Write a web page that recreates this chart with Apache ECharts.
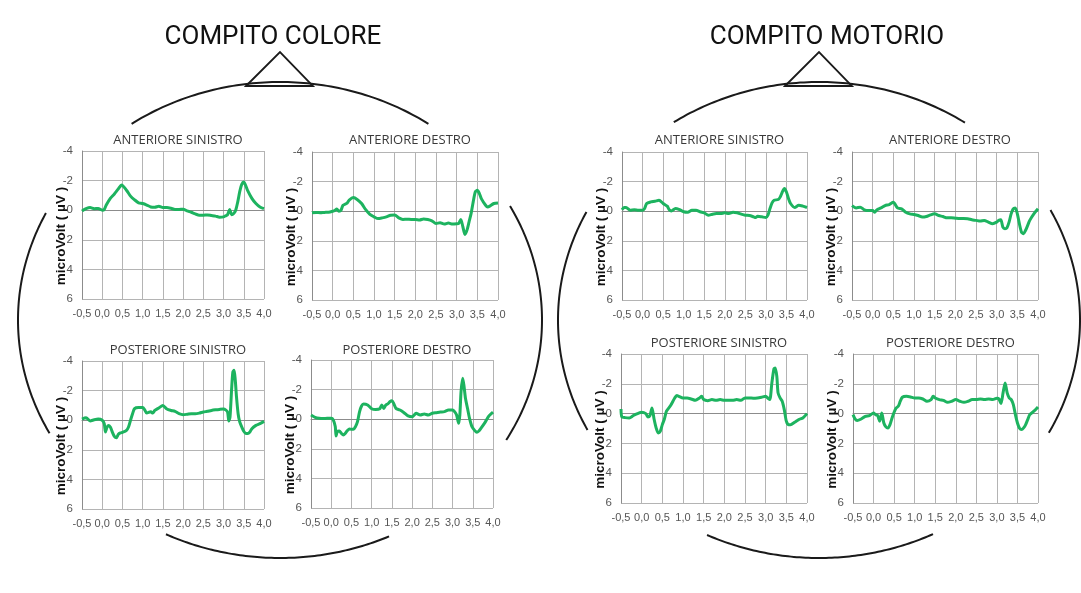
<!DOCTYPE html>
<html><head><meta charset="utf-8">
<script src="https://cdn.jsdelivr.net/npm/echarts@6/dist/echarts.min.js"></script>
<style>html,body{margin:0;padding:0;background:#fff}#c{width:1081px;height:593px}</style>
</head><body><div id="c"></div>
<script>
// ---- DATA ----
const headTitles = ['COMPITO COLORE', 'COMPITO MOTORIO'];
const panelTitles = ['ANTERIORE SINISTRO', 'ANTERIORE DESTRO', 'POSTERIORE SINISTRO', 'POSTERIORE DESTRO',
                     'ANTERIORE SINISTRO', 'ANTERIORE DESTRO', 'POSTERIORE SINISTRO', 'POSTERIORE DESTRO'];
const yAxisName = 'microVolt ( µV )';
const xMin = -0.5, xMax = 4.0, xStep = 0.5;
const yMin = -4, yMax = 6, yStep = 2;

// [time (s), microVolt]
const coloreAntSin = [[-0.5,0.05],[-0.4,-0.1],[-0.3,-0.18],[-0.2,-0.1],[-0.1,-0.12],[0.0,0.0],[0.05,-0.05],[0.1,-0.35],[0.2,-0.8],[0.3,-1.1],[0.4,-1.45],[0.48,-1.7],[0.6,-1.35],[0.7,-0.95],[0.8,-0.7],[0.9,-0.5],[1.0,-0.45],[1.1,-0.35],[1.2,-0.22],[1.3,-0.2],[1.4,-0.27],[1.5,-0.18],[1.6,-0.18],[1.7,-0.13],[1.8,-0.05],[1.9,-0.05],[2.0,-0.07],[2.1,0.05],[2.2,0.14],[2.3,0.25],[2.4,0.34],[2.5,0.34],[2.6,0.32],[2.7,0.36],[2.8,0.4],[2.9,0.47],[3.0,0.45],[3.05,0.38],[3.1,0.3],[3.15,-0.05],[3.2,0.3],[3.25,0.22],[3.3,0.0],[3.35,-0.55],[3.4,-1.25],[3.45,-1.75],[3.5,-1.9],[3.55,-1.65],[3.6,-1.3],[3.7,-0.8],[3.8,-0.45],[3.9,-0.22],[4.0,-0.1]];
const coloreAntDes = [[-0.5,0.1],[-0.4,0.08],[-0.3,0.1],[-0.2,0.08],[-0.1,0.07],[0.0,0.0],[0.05,-0.05],[0.1,-0.15],[0.15,0.0],[0.2,-0.05],[0.25,-0.4],[0.35,-0.55],[0.4,-0.75],[0.5,-0.92],[0.6,-0.78],[0.7,-0.52],[0.8,-0.1],[0.9,0.22],[1.0,0.38],[1.1,0.5],[1.2,0.45],[1.3,0.38],[1.4,0.27],[1.5,0.25],[1.6,0.45],[1.7,0.56],[1.8,0.54],[1.9,0.56],[2.0,0.56],[2.1,0.6],[2.2,0.52],[2.3,0.56],[2.4,0.65],[2.5,0.83],[2.6,0.78],[2.7,0.87],[2.8,0.8],[2.9,0.87],[3.0,0.85],[3.05,0.83],[3.1,0.56],[3.15,1.05],[3.2,1.57],[3.25,1.28],[3.3,0.72],[3.35,0.15],[3.4,-0.63],[3.45,-1.3],[3.5,-1.41],[3.55,-1.19],[3.6,-0.83],[3.7,-0.4],[3.75,-0.29],[3.8,-0.34],[3.9,-0.52],[4.0,-0.56]];
const colorePostSin = [[-0.5,-0.08],[-0.4,-0.17],[-0.3,0.05],[-0.2,-0.03],[-0.1,-0.08],[0.0,0.0],[0.05,0.23],[0.08,0.8],[0.12,0.46],[0.15,0.35],[0.2,0.46],[0.25,0.8],[0.3,1.09],[0.35,1.18],[0.4,0.95],[0.45,0.86],[0.5,0.82],[0.6,0.68],[0.65,0.46],[0.7,0.0],[0.75,-0.44],[0.8,-0.78],[0.9,-0.85],[1.0,-0.85],[1.05,-0.7],[1.1,-0.48],[1.2,-0.57],[1.25,-0.48],[1.3,-0.66],[1.4,-0.83],[1.5,-1.0],[1.6,-0.75],[1.7,-0.66],[1.8,-0.6],[1.9,-0.44],[2.0,-0.37],[2.1,-0.4],[2.2,-0.44],[2.3,-0.44],[2.4,-0.48],[2.5,-0.55],[2.6,-0.6],[2.7,-0.66],[2.8,-0.7],[2.9,-0.73],[3.0,-0.75],[3.05,-0.7],[3.1,-0.55],[3.13,0.05],[3.16,-0.22],[3.2,-2.13],[3.23,-3.26],[3.26,-3.37],[3.29,-2.7],[3.32,-1.57],[3.36,-0.44],[3.4,0.12],[3.45,0.46],[3.5,0.75],[3.55,0.9],[3.6,0.9],[3.65,0.8],[3.7,0.57],[3.8,0.35],[3.9,0.23],[4.0,0.08]];
const colorePostDes = [[-0.5,-0.28],[-0.4,-0.13],[-0.3,-0.06],[-0.2,-0.04],[-0.1,-0.06],[0.0,-0.06],[0.05,0.05],[0.1,0.5],[0.12,1.13],[0.15,0.84],[0.2,0.8],[0.25,0.95],[0.3,1.07],[0.35,0.95],[0.4,0.77],[0.45,0.66],[0.5,0.68],[0.55,0.68],[0.6,0.5],[0.65,0.17],[0.7,-0.5],[0.75,-0.89],[0.8,-1.03],[0.9,-0.96],[1.0,-0.71],[1.1,-0.66],[1.2,-0.71],[1.25,-0.96],[1.3,-0.73],[1.35,-0.96],[1.4,-1.03],[1.45,-1.18],[1.5,-1.25],[1.55,-1.03],[1.6,-0.73],[1.7,-0.62],[1.8,-0.44],[1.9,-0.22],[2.0,-0.17],[2.1,-0.4],[2.2,-0.28],[2.3,-0.35],[2.4,-0.28],[2.5,-0.4],[2.6,-0.44],[2.7,-0.48],[2.8,-0.51],[2.9,-0.62],[3.0,-0.62],[3.05,-0.51],[3.1,-0.28],[3.15,0.28],[3.18,-0.28],[3.21,-1.86],[3.25,-2.76],[3.28,-2.31],[3.32,-1.4],[3.37,-0.73],[3.42,-0.06],[3.48,0.5],[3.55,0.77],[3.6,0.89],[3.65,0.8],[3.7,0.62],[3.8,0.23],[3.9,-0.22],[4.0,-0.48]];
const motorioAntSin = [[-0.5,-0.1],[-0.45,-0.25],[-0.4,-0.25],[-0.3,-0.07],[-0.2,-0.1],[-0.1,-0.07],[0.0,-0.07],[0.05,-0.18],[0.1,-0.52],[0.2,-0.63],[0.3,-0.67],[0.4,-0.74],[0.5,-0.52],[0.6,-0.34],[0.65,-0.1],[0.7,-0.02],[0.8,-0.18],[0.9,-0.1],[1.0,0.04],[1.1,0.07],[1.2,-0.07],[1.3,-0.07],[1.4,0.04],[1.5,0.11],[1.6,0.27],[1.7,0.2],[1.8,0.16],[1.9,0.16],[2.0,0.11],[2.1,0.16],[2.2,0.07],[2.3,0.11],[2.4,0.2],[2.5,0.27],[2.6,0.29],[2.7,0.38],[2.75,0.43],[2.8,0.34],[2.9,0.38],[3.0,0.43],[3.05,0.27],[3.1,-0.18],[3.15,-0.56],[3.2,-0.74],[3.3,-0.79],[3.35,-0.97],[3.4,-1.3],[3.45,-1.53],[3.5,-1.3],[3.55,-0.85],[3.6,-0.52],[3.7,-0.25],[3.8,-0.4],[3.9,-0.34],[4.0,-0.25]];
const motorioAntDes = [[-0.5,-0.38],[-0.4,-0.22],[-0.3,-0.27],[-0.2,-0.09],[-0.1,-0.04],[0.0,-0.04],[0.05,0.07],[0.1,-0.09],[0.2,-0.22],[0.3,-0.38],[0.4,-0.45],[0.5,-0.6],[0.6,-0.22],[0.7,-0.16],[0.8,0.07],[0.9,0.18],[1.0,0.22],[1.1,0.29],[1.2,0.4],[1.3,0.36],[1.4,0.25],[1.5,0.18],[1.6,0.29],[1.7,0.36],[1.8,0.45],[1.9,0.45],[2.0,0.47],[2.1,0.49],[2.2,0.49],[2.3,0.51],[2.4,0.58],[2.5,0.62],[2.6,0.67],[2.7,0.62],[2.8,0.74],[2.9,0.85],[3.0,0.74],[3.05,0.62],[3.1,0.58],[3.15,1.07],[3.2,1.18],[3.25,1.12],[3.3,0.74],[3.35,0.18],[3.4,-0.16],[3.45,-0.22],[3.5,0.18],[3.55,0.85],[3.6,1.41],[3.65,1.52],[3.7,1.29],[3.75,0.96],[3.8,0.62],[3.9,0.18],[4.0,-0.16]];
const motorioPostSin = [[-0.5,-0.31],[-0.48,0.22],[-0.4,0.27],[-0.3,0.29],[-0.2,0.13],[-0.1,0.0],[0.0,-0.09],[0.1,0.0],[0.15,0.22],[0.2,0.13],[0.25,-0.38],[0.3,0.36],[0.35,0.96],[0.4,1.3],[0.45,1.19],[0.5,0.74],[0.55,0.36],[0.6,-0.16],[0.7,-0.54],[0.8,-1.05],[0.85,-1.21],[0.9,-1.16],[1.0,-1.05],[1.1,-1.05],[1.2,-0.98],[1.3,-0.89],[1.4,-1.05],[1.45,-1.16],[1.5,-0.94],[1.6,-0.87],[1.7,-0.94],[1.8,-0.89],[1.9,-0.94],[2.0,-0.89],[2.1,-0.89],[2.2,-0.89],[2.3,-0.94],[2.4,-0.89],[2.5,-1.05],[2.6,-1.05],[2.7,-1.03],[2.8,-1.05],[2.9,-1.1],[3.0,-1.16],[3.05,-1.05],[3.1,-0.94],[3.15,-2.06],[3.2,-3.0],[3.23,-3.06],[3.27,-2.5],[3.3,-1.39],[3.35,-1.05],[3.4,-0.83],[3.45,-0.27],[3.5,0.51],[3.55,0.74],[3.6,0.74],[3.7,0.58],[3.8,0.4],[3.9,0.29],[4.0,0.0]];
const motorioPostDes = [[-0.5,0.07],[-0.45,0.36],[-0.4,0.47],[-0.3,0.36],[-0.2,0.18],[-0.1,0.13],[0.0,-0.04],[0.05,0.07],[0.1,0.13],[0.15,0.51],[0.2,-0.04],[0.25,0.63],[0.3,0.89],[0.35,0.96],[0.4,0.74],[0.45,0.29],[0.5,-0.09],[0.55,-0.38],[0.6,-0.49],[0.65,-0.83],[0.7,-1.1],[0.8,-1.16],[0.9,-1.12],[1.0,-1.05],[1.1,-1.05],[1.2,-0.98],[1.3,-0.83],[1.4,-0.94],[1.45,-1.16],[1.5,-1.05],[1.6,-0.94],[1.7,-0.89],[1.8,-0.76],[1.9,-0.83],[2.0,-0.94],[2.1,-0.83],[2.2,-0.76],[2.3,-0.83],[2.4,-0.94],[2.5,-0.94],[2.6,-0.98],[2.7,-0.94],[2.8,-0.98],[2.9,-0.94],[3.0,-1.03],[3.05,-0.98],[3.1,-0.67],[3.15,-1.39],[3.2,-2.06],[3.25,-1.39],[3.3,-1.05],[3.35,-0.94],[3.4,-0.6],[3.45,0.07],[3.5,0.63],[3.55,0.98],[3.6,1.07],[3.65,0.96],[3.7,0.74],[3.75,0.4],[3.8,0.07],[3.9,-0.16],[4.0,-0.45]];

const panelData = [coloreAntSin, coloreAntDes, colorePostSin, colorePostDes,
                   motorioAntSin, motorioAntDes, motorioPostSin, motorioPostDes];

// ---- LAYOUT ----
const rects = [
  [82,151,182,148],[312,152,186,148],[82,361,182,148],[311,360,182,148],
  [622,152,185,148],[852,152,186,148],[621,354,186,149],[853,354,185,149]
];
const titleY = [129,129,339,339,129,129,332,332];
const lineColor = '#1db35f';

const chart = echarts.init(document.getElementById('c'), null, {renderer:'canvas'});

const grid = [], xAxis = [], yAxis = [], series = [], title = [];
rects.forEach((r, i) => {
  grid.push({left:r[0], top:r[1], width:r[2], height:r[3], containLabel:false});
  xAxis.push({
    type:'value', gridIndex:i, min:xMin, max:xMax, interval:xStep,
    axisLine:{show:true, lineStyle:{color:'#8c8c8c', width:1}},
    axisTick:{show:false},
    axisLabel:{color:'#555', fontFamily:'Liberation Sans, Arial', fontSize:11, margin:9,
      formatter:v => v.toFixed(1).replace('.', ',')},
    splitLine:{show:true, lineStyle:{color:'#b4b4b4', width:1}}
  });
  yAxis.push({
    type:'value', gridIndex:i, min:yMin, max:yMax, interval:yStep, inverse:true,
    name:yAxisName, nameLocation:'middle', nameGap:14, nameRotate:90, nameMoveOverlap:false,
    nameTextStyle:{color:'#111', fontWeight:'bold', fontSize:13.5, fontFamily:'Liberation Sans, Arial', padding:[0,22,0,0]},
    axisLine:{show:true, onZero:false, lineStyle:{color:'#8c8c8c', width:1}},
    axisTick:{show:false},
    axisLabel:{color:'#555', fontFamily:'Liberation Sans, Arial', fontSize:11.5, margin:9},
    splitLine:{show:true, lineStyle:{color:'#b4b4b4', width:1}}
  });
  series.push({
    type:'line', xAxisIndex:i, yAxisIndex:i, data:panelData[i], showSymbol:false,
    smooth:0.25, lineStyle:{color:lineColor, width:3}, itemStyle:{color:lineColor}, z:5
  });
  title.push({
    text:panelTitles[i], left:r[0] + r[2]/2, top:titleY[i], textAlign:'center',
    textStyle:{fontFamily:'Open Sans', fontWeight:'normal', fontSize:13, color:'#3a3a3a'}
  });
});
title.push({text:headTitles[0], left:268, top:19, textAlign:'center',
  textStyle:{fontFamily:'Roboto', fontWeight:'normal', fontSize:26, color:'#111'}});
title.push({text:headTitles[1], left:822, top:19, textAlign:'center',
  textStyle:{fontFamily:'Roboto', fontWeight:'normal', fontSize:26, color:'#111'}});

// ---- head outlines (decoration) ----
function arcPts(cx, cy, rx, ry, a0, a1) {
  const pts = [];
  for (let k = 0; k <= 80; k++) {
    const t = (a0 + (a1 - a0) * k / 80) * Math.PI / 180;
    pts.push([cx + rx * Math.cos(t), cy + ry * Math.sin(t)]);
  }
  return pts;
}
const heads = [
  {cx:280, cy:320, rx:262, ry:238, segs:[[-124.5,-55.5],[-28.6,30.3],[65.4,115.8],[151.6,206.7]]},
  {cx:819, cy:320, rx:261, ry:238, segs:[[-123.8,-56],[-27.5,28.3],[64.1,115.4],[152.5,207]]}
];
const graphic = [];
heads.forEach(h => {
  h.segs.forEach(s => {
    graphic.push({type:'polyline', z:-1, silent:true,
      shape:{points:arcPts(h.cx, h.cy, h.rx, h.ry, s[0], s[1])},
      style:{stroke:'#1a1a1a', lineWidth:2, fill:null}});
  });
  graphic.push({type:'polygon', z:-1, silent:true,
    shape:{points:[[h.cx - 34, 86], [h.cx, 52], [h.cx + 33, 86]]},
    style:{stroke:'#1a1a1a', lineWidth:1.8, fill:null}});
});

chart.setOption({
  backgroundColor:'#ffffff',
  animation:false,
  title, grid, xAxis, yAxis, series, graphic
});
</script></body></html>
